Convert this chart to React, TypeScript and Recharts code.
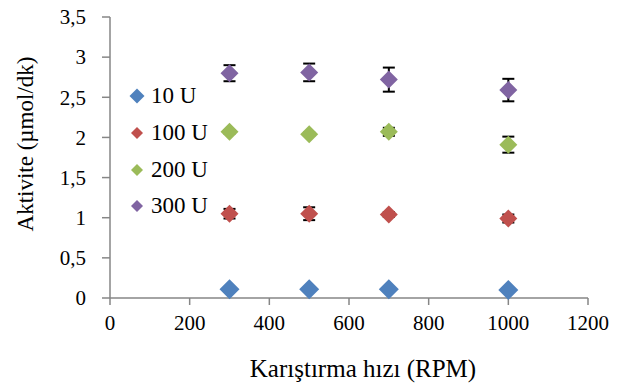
import { ScatterChart, Scatter, XAxis, YAxis, ErrorBar, Legend, Label } from 'recharts';

const rpm = [300, 500, 700, 1000];
const u10 = [0.11, 0.11, 0.11, 0.1];
const u100 = [1.05, 1.05, 1.04, 0.99];
const u200 = [2.07, 2.04, 2.07, 1.91];
const u300 = [2.8, 2.81, 2.72, 2.59];
const err10 = [0.01, 0.01, 0.01, 0.01];
const err100 = [0.06, 0.08, 0.03, 0.05];
const err200 = [0.02, 0.02, 0.05, 0.1];
const err300 = [0.1, 0.11, 0.15, 0.14];

const xTicks = [0, 200, 400, 600, 800, 1000, 1200];
const yTicks = [0, 0.5, 1, 1.5, 2, 2.5, 3, 3.5];

const font = "'Liberation Serif', serif";
const axisColor = '#868686';

const toRows = (ys: number[], errs: number[]) =>
  rpm.map((x, i) => ({ x, y: ys[i], err: errs[i] }));

const series = [
  { name: '10 U', color: '#4F81BD', r: 10, lr: 7.5, data: toRows(u10, err10) },
  { name: '100 U', color: '#C0504D', r: 9, lr: 6, data: toRows(u100, err100) },
  { name: '200 U', color: '#9BBB59', r: 9, lr: 6, data: toRows(u200, err200) },
  { name: '300 U', color: '#8064A2', r: 9, lr: 6, data: toRows(u300, err300) },
];

const diamond = (r: number, color: string) => (props: any) => {
  const { cx, cy } = props;
  return (
    <polygon
      points={`${cx},${cy - r} ${cx + r},${cy} ${cx},${cy + r} ${cx - r},${cy}`}
      fill={color}
    />
  );
};

const XTick = (props: any) => (
  <text x={props.x} y={props.y + 25} textAnchor="middle" fill="#000" style={{ fontFamily: font, fontSize: 21 }}>
    {props.payload.value}
  </text>
);

const YTick = (props: any) => (
  <text x={props.x} y={props.y} dy="0.35em" textAnchor="end" fill="#000" style={{ fontFamily: font, fontSize: 21 }}>
    {String(props.payload.value).replace('.', ',')}
  </text>
);

const renderLegend = () => (
  <div style={{ fontFamily: font, fontSize: 23, color: '#000' }}>
    {series.map((s) => (
      <div key={s.name} style={{ display: 'flex', alignItems: 'center', height: 36.7 }}>
        <svg width={24} height={20}>
          <polygon
            points={`12,${10 - s.lr} ${12 + s.lr},10 12,${10 + s.lr} ${12 - s.lr},10`}
            fill={s.color}
          />
        </svg>
        <span style={{ marginLeft: 2 }}>{s.name}</span>
      </div>
    ))}
  </div>
);

export default function App() {
  return (
    <div style={{ position: 'absolute', left: 0, top: 0, background: '#fff', fontFamily: font }}>
      <ScatterChart width={629} height={392} margin={{ top: 17, right: 41, bottom: 0, left: 0 }}>
        <XAxis
          type="number"
          dataKey="x"
          domain={[0, 1200]}
          ticks={xTicks}
          stroke={axisColor}
          strokeWidth={1.5}
          tickSize={7}
          tickMargin={0}
          height={94}
          tick={XTick}
        >
          <Label
            content={({ viewBox }: any) => (
              <text
                x={viewBox.x + viewBox.width / 2 + 14}
                y={viewBox.y + 79}
                textAnchor="middle"
                fill="#000"
                style={{ fontFamily: font, fontSize: 25 }}
              >
                Karıştırma hızı (RPM)
              </text>
            )}
          />
        </XAxis>
        <YAxis
          type="number"
          dataKey="y"
          domain={[0, 3.5]}
          ticks={yTicks}
          stroke={axisColor}
          strokeWidth={1.5}
          tickSize={8}
          tickMargin={16}
          width={110}
          tick={YTick}
        >
          <Label
            content={({ viewBox }: any) => {
              const cx = viewBox.x + 25;
              const cy = viewBox.y + viewBox.height / 2 - 13.5;
              return (
                <text
                  x={cx}
                  y={cy}
                  dy="0.35em"
                  textAnchor="middle"
                  transform={`rotate(-90, ${cx}, ${cy})`}
                  fill="#000"
                  style={{ fontFamily: font, fontSize: 23 }}
                >
                  Aktivite (µmol/dk)
                </text>
              );
            }}
          />
        </YAxis>
        <Legend
          layout="vertical"
          align="center"
          verticalAlign="middle"
          content={renderLegend}
          wrapperStyle={{ position: 'absolute', left: 125, top: 78, width: 100 }}
        />
        {series.map((s) => (
          <Scatter
            key={s.name}
            name={s.name}
            data={s.data}
            fill={s.color}
            shape={diamond(s.r, s.color)}
            isAnimationActive={false}
          >
            <ErrorBar dataKey="err" direction="y" width={6} stroke="#000" strokeWidth={2} />
          </Scatter>
        ))}
      </ScatterChart>
    </div>
  );
}
